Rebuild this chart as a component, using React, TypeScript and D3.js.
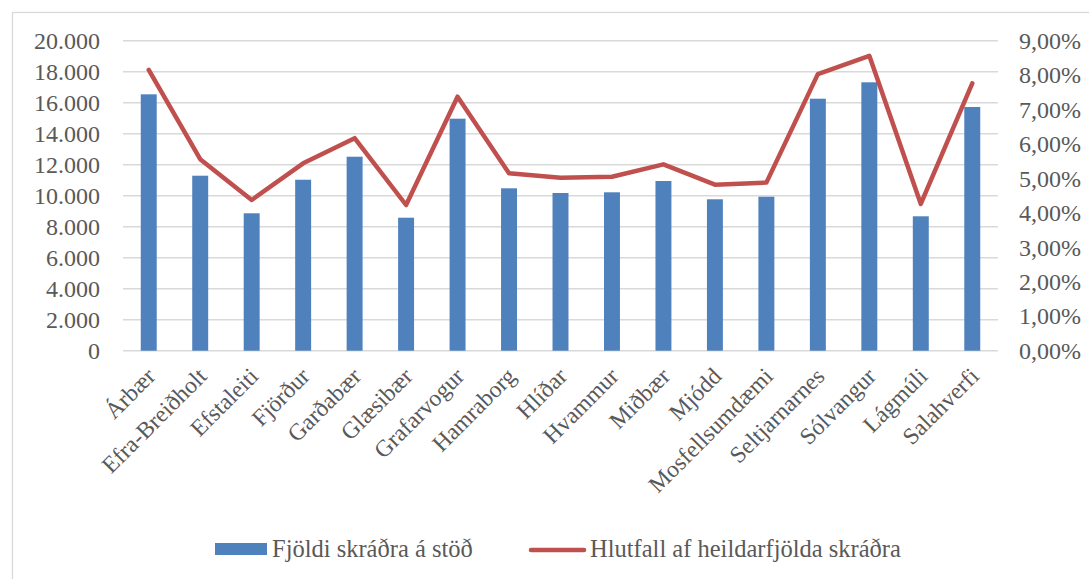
import React, { useEffect, useRef } from 'react';
import * as d3 from 'd3';

const stations = [
  'Árbær', 'Efra-Breiðholt', 'Efstaleiti', 'Fjörður', 'Garðabær', 'Glæsibær',
  'Grafarvogur', 'Hamraborg', 'Hlíðar', 'Hvammur', 'Miðbær', 'Mjódd',
  'Mosfellsumdæmi', 'Seltjarnarnes', 'Sólvangur', 'Lágmúli', 'Salahverfi',
];

// Fjöldi skráðra á stöð
const registered = [
  16540, 11290, 8865, 11030, 12516, 8580, 14968, 10477, 10174, 10219,
  10948, 9768, 9935, 16258, 17316, 8671, 15723,
];

// Hlutfall af heildarfjölda skráðra (%)
const share = [
  8.15, 5.56, 4.375, 5.44, 6.17, 4.23, 7.375, 5.15, 5.02, 5.05,
  5.41, 4.82, 4.88, 8.03, 8.56, 4.26, 7.76,
];

const leftTicks = [0, 2000, 4000, 6000, 8000, 10000, 12000, 14000, 16000, 18000, 20000];
const rightTicks = [0, 1, 2, 3, 4, 5, 6, 7, 8, 9];

const barLabel = 'Fjöldi skráðra á stöð';
const lineLabel = 'Hlutfall af heildarfjölda skráðra';

const WIDTH = 1089;
const HEIGHT = 579;
const FONT = '"Liberation Serif", "DejaVu Serif", serif';
const TEXT = '#595959';
const BLUE = '#4F81BD';
const RED = '#C0504D';
const GRID = '#D9D9D9';

const App: React.FC = () => {
  const svgRef = useRef<SVGSVGElement>(null);

  useEffect(() => {
    if (!svgRef.current) return;
    const svg = d3.select(svgRef.current);
    svg.selectAll('*').remove();

    const margin = { top: 40.7, right: 91, bottom: 228.3, left: 123 };
    const innerWidth = WIDTH - margin.left - margin.right;
    const innerHeight = HEIGHT - margin.top - margin.bottom;

    // chart area border (runs off the page on the right and bottom)
    svg.append('rect')
      .attr('x', 12.5)
      .attr('y', 12.5)
      .attr('width', 1200)
      .attr('height', 700)
      .attr('fill', '#ffffff')
      .attr('stroke', GRID)
      .attr('stroke-width', 1.3);

    const g = svg.append('g')
      .attr('transform', `translate(${margin.left},${margin.top})`);

    const x = d3.scaleBand<string>()
      .domain(stations)
      .range([0, innerWidth])
      .paddingInner(0.69)
      .paddingOuter(0.345);

    const xCenter = d3.scalePoint<string>()
      .domain(stations)
      .range([0, innerWidth])
      .padding(0.5);

    const yLeft = d3.scaleLinear().domain([0, 20000]).range([innerHeight, 0]);
    const yRight = d3.scaleLinear().domain([0, 9]).range([innerHeight, 0]);

    // grid lines
    g.append('g')
      .selectAll('line')
      .data(leftTicks)
      .enter()
      .append('line')
      .attr('x1', 0)
      .attr('x2', innerWidth)
      .attr('y1', d => yLeft(d))
      .attr('y2', d => yLeft(d))
      .attr('stroke', GRID)
      .attr('stroke-width', 1.4);

    // left axis labels
    g.append('g')
      .selectAll('text')
      .data(leftTicks)
      .enter()
      .append('text')
      .attr('x', -23)
      .attr('y', d => yLeft(d))
      .attr('dy', '0.34em')
      .attr('text-anchor', 'end')
      .attr('fill', TEXT)
      .style('font-family', FONT)
      .style('font-size', '24px')
      .text(d => d3.format(',')(d).replace(/,/g, '.'));

    // right axis labels
    g.append('g')
      .selectAll('text')
      .data(rightTicks)
      .enter()
      .append('text')
      .attr('x', innerWidth + 21)
      .attr('y', d => yRight(d))
      .attr('dy', '0.34em')
      .attr('text-anchor', 'start')
      .attr('fill', TEXT)
      .style('font-family', FONT)
      .style('font-size', '24px')
      .text(d => `${d.toFixed(2).replace('.', ',')}%`);

    // bars
    g.append('g')
      .selectAll('rect')
      .data(stations)
      .enter()
      .append('rect')
      .attr('x', d => x(d) as number)
      .attr('width', x.bandwidth())
      .attr('y', (d, i) => yLeft(registered[i]))
      .attr('height', (d, i) => innerHeight - yLeft(registered[i]))
      .attr('fill', BLUE);

    // line
    const line = d3.line<number>()
      .x((d, i) => xCenter(stations[i]) as number)
      .y(d => yRight(d))
      .curve(d3.curveLinear);

    g.append('path')
      .datum(share)
      .attr('fill', 'none')
      .attr('stroke', RED)
      .attr('stroke-width', 4.5)
      .attr('stroke-linejoin', 'round')
      .attr('stroke-linecap', 'round')
      .attr('d', line);

    // category labels
    g.append('g')
      .selectAll('text')
      .data(stations)
      .enter()
      .append('text')
      .attr('transform', d => `translate(${(xCenter(d) as number) + 8},${innerHeight + 27}) rotate(-45)`)
      .attr('text-anchor', 'end')
      .attr('fill', TEXT)
      .style('font-family', FONT)
      .style('font-size', '23.5px')
      .text(d => d);

    // legend
    const legend = svg.append('g').attr('transform', 'translate(215,549)');

    legend.append('rect')
      .attr('x', 0)
      .attr('y', -6)
      .attr('width', 52)
      .attr('height', 12)
      .attr('fill', BLUE);

    legend.append('text')
      .attr('x', 57)
      .attr('y', 0)
      .attr('dy', '0.34em')
      .attr('fill', TEXT)
      .style('font-family', FONT)
      .style('font-size', '24.5px')
      .text(barLabel);

    legend.append('line')
      .attr('x1', 316)
      .attr('x2', 369)
      .attr('y1', 1)
      .attr('y2', 1)
      .attr('stroke', RED)
      .attr('stroke-width', 4.5)
      .attr('stroke-linecap', 'round');

    legend.append('text')
      .attr('x', 375)
      .attr('y', 0)
      .attr('dy', '0.34em')
      .attr('fill', TEXT)
      .style('font-family', FONT)
      .style('font-size', '24.5px')
      .text(lineLabel);
  }, []);

  return (
    <svg
      ref={svgRef}
      width={WIDTH}
      height={HEIGHT}
      style={{ position: 'absolute', left: 0, top: 0, display: 'block', background: '#ffffff' }}
    />
  );
};

export default App;
